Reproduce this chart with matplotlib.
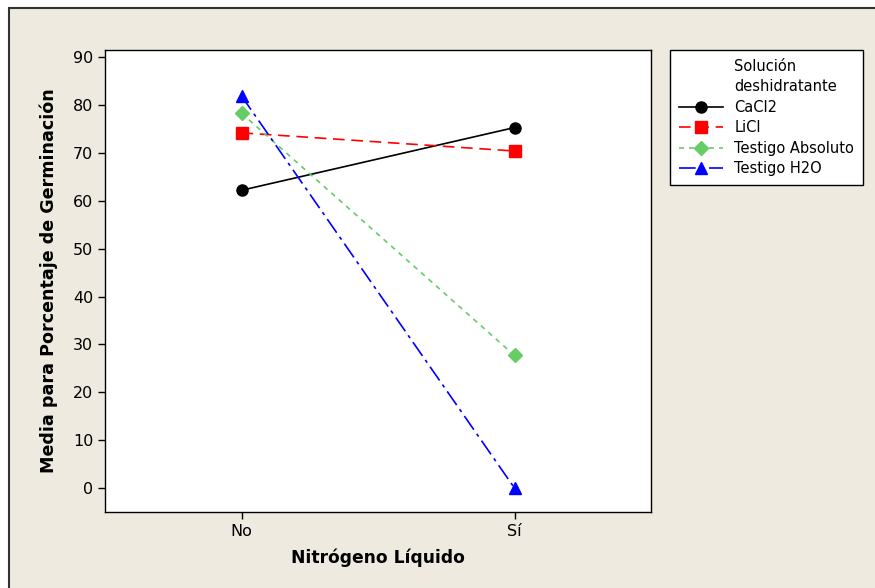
import matplotlib
matplotlib.use('Agg')
from matplotlib import pyplot as plt
from matplotlib.lines import Line2D
from matplotlib.patches import Rectangle

niveles = ['No', 'Sí']
cacl2 = [62.2, 75.3]
licl = [74.2, 70.4]
testigo_abs = [78.3, 27.7]
testigo_h2o = [81.9, 0.0]

fondo = '#EEEAE0'
plt.rcParams['font.family'] = ['DejaVu Sans']

fig = plt.figure(figsize=(8.75, 5.88), dpi=100, facecolor='white')
# marco gris del area del grafico
fig.patches.append(Rectangle((9 / 875, -0.05), 1.1, 1 - 8 / 588 + 0.05,
                             transform=fig.transFigure, facecolor=fondo,
                             edgecolor='#333333', linewidth=1.5, zorder=-10))

ax = fig.add_axes([105 / 875, 1 - 512 / 588, 546 / 875, 462 / 588])
ax.set_facecolor('white')

x = range(len(niveles))
ax.plot(x, cacl2, color='black', linestyle='-', linewidth=1.2,
        marker='o', markersize=8, label='CaCl2')
ax.plot(x, licl, color='#FF0000', linestyle=(0, (7, 4)), linewidth=1.2,
        marker='s', markersize=8, label='LiCl')
ax.plot(x, testigo_abs, color='#66CC66', linestyle=(0, (3, 3)), linewidth=1.2,
        marker='D', markersize=7, label='Testigo Absoluto')
ax.plot(x, testigo_h2o, color='#0000FF', linestyle=(0, (10, 3, 2, 3)), linewidth=1.2,
        marker='^', markersize=9, label='Testigo H2O')

ax.set_xlim(-0.5, 1.5)
ax.set_ylim(-5.0, 91.5)
ax.set_xticks(list(x))
ax.set_xticklabels(niveles)
ax.set_yticks(range(0, 91, 10))
ax.tick_params(direction='out', length=5, width=1, labelsize=11.5, colors='black')
for s in ax.spines.values():
    s.set_linewidth(1)

ax.set_xlabel('Nitrógeno Líquido', fontsize=12.3, fontweight='bold', labelpad=7)
ax.set_ylabel('Media para Porcentaje de Germinación', fontsize=12.6,
              fontweight='bold', labelpad=11)

# leyenda con el titulo alineado a la columna de texto
vacio = Line2D([], [], linestyle='none')
handles, labels = ax.get_legend_handles_labels()
leg = ax.legend([vacio, vacio] + handles, ['Solución', 'deshidratante'] + labels,
                loc='upper left', bbox_to_anchor=(670 / 875, 1 - 50 / 588),
                bbox_transform=fig.transFigure, fontsize=10.5, frameon=True,
                fancybox=False, edgecolor='black', framealpha=1,
                handlelength=3.0, borderaxespad=0, labelspacing=0.38,
                borderpad=0.6)
leg.get_frame().set_linewidth(1)

fig.savefig('out.png', dpi=100, facecolor=fig.get_facecolor())
